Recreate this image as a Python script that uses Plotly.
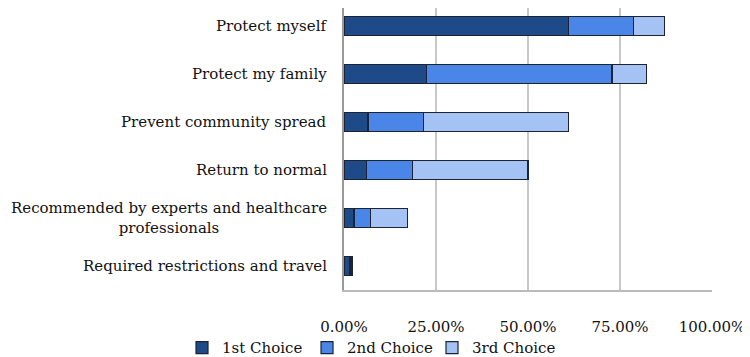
import plotly.graph_objects as go

categories = [
    "Protect myself",
    "Protect my family",
    "Prevent community spread",
    "Return to normal",
    "Recommended by experts and healthcare<br>professionals",
    "Required restrictions and travel",
]
first_choice = [61.0, 22.5, 6.5, 6.2, 2.7, 1.5]
second_choice = [17.6, 50.3, 15.0, 12.5, 4.4, 0.4]
third_choice = [8.5, 9.5, 39.6, 31.3, 10.1, 0.3]
series_names = ["1st Choice", "2nd Choice", "3rd Choice"]
colors = ["#1F4A8A", "#4A86E8", "#A4C2F4"]
tick_vals = [0, 25, 50, 75, 100]
tick_text = ["0.00%", "25.00%", "50.00%", "75.00%", "100.00%"]

font_family = "DejaVu Serif"
fsize = 15

fig = go.Figure()
for name, vals, col in zip(series_names, [first_choice, second_choice, third_choice], colors):
    fig.add_trace(go.Bar(
        y=categories, x=vals, name=name, orientation="h",
        marker=dict(color=col, line=dict(color="#1c2433", width=1.2)),
        width=0.4,
    ))

for c in categories:
    fig.add_annotation(
        x=0, xref="paper", y=c, yref="y", text=c, showarrow=False,
        xanchor="right", yanchor="middle", xshift=-15, align="center",
        font=dict(family=font_family, size=fsize, color="#111"),
    )

fig.update_layout(
    barmode="stack",
    width=742, height=349,
    margin=dict(l=336, r=38, t=0, b=67, autoexpand=False),
    paper_bgcolor="white", plot_bgcolor="white",
    font=dict(family=font_family, size=fsize, color="#111"),
    showlegend=True,
    legend=dict(
        orientation="h", xref="paper", yref="paper",
        x=-0.4402, xanchor="left", y=-0.205, yanchor="middle",
        font=dict(family=font_family, size=fsize, color="#111"),
        traceorder="normal", itemwidth=30, bgcolor="rgba(0,0,0,0)",
        entrywidth=80, entrywidthmode="pixels",
    ),
)
fig.update_xaxes(
    range=[0, 100], tickvals=tick_vals, ticktext=tick_text,
    showgrid=True, gridcolor="#c8c8c8", gridwidth=1.5,
    zeroline=False, showline=True, linecolor="#bbbbbb", linewidth=1.5,
    ticks="", ticklabelstandoff=22, fixedrange=True,
)
fig.update_yaxes(
    categoryorder="array", categoryarray=categories[::-1],
    range=[-0.5, 5.375],
    showticklabels=False, showgrid=False, showline=True,
    linecolor="#999999", linewidth=1.5, ticks="",
)

fig.write_html("out.html")
